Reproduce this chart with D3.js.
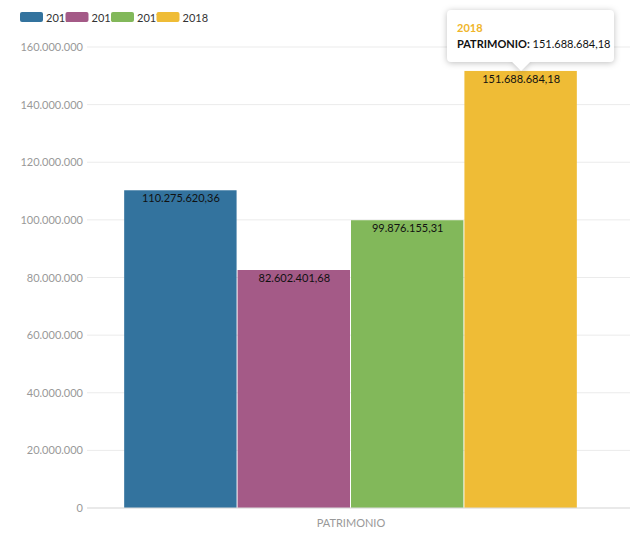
<!DOCTYPE html>
<html><head><meta charset="utf-8">
<script src="https://cdn.jsdelivr.net/npm/d3@7"></script>
<style>
body{margin:0;background:#fff;font-family:Lato,"Open Sans",sans-serif;}
</style></head>
<body><svg id="c" width="632" height="534"></svg>
<script>
var years = ["2015", "2016", "2017", "2018"];
var values = [110275620.36, 82602401.68, 99876155.31, 151688684.18];
var category = "PATRIMONIO";
var colors = ["#33739e", "#a45a87", "#82b85a", "#efbc36"];
var yTicks = [0, 20000000, 40000000, 60000000, 80000000, 100000000, 120000000, 140000000, 160000000];

var svg = d3.select("#c");
var pLeft = 72, pRight = 630, pTop = 47, pBottom = 508;
var fmtInt = function(v) { return d3.format(",.0f")(v).replace(/,/g, "."); };
var fmtDec = function(v) {
    var s = d3.format(",.2f")(v);
    return s.replace(/,/g, "#").replace(".", ",").replace(/#/g, ".");
};

var y = d3.scaleLinear().domain([0, 160000000]).range([pBottom, pTop]);
var xCat = d3.scaleBand().domain([category]).range([pLeft, pRight]).paddingInner(0).paddingOuter(0.115);
var x = d3.scaleBand().domain(years).range([xCat(category), xCat(category) + xCat.bandwidth()]).padding(0);

// grid
svg.append("g").selectAll("line").data(yTicks).join("line")
    .attr("x1", pLeft + 15).attr("x2", pRight).attr("y1", d => y(d)).attr("y2", d => y(d))
    .attr("stroke", "#ebebeb");
svg.append("g").selectAll("text").data(yTicks).join("text")
    .attr("x", 83).attr("y", d => y(d) + 4).attr("text-anchor", "end")
    .attr("font-size", 11).attr("fill", "#999").text(d => fmtInt(d));

svg.selectAll("rect.bar").data(values).join("rect").attr("class", "bar")
    .attr("x", (d, i) => x(years[i])).attr("width", x.bandwidth() - 1)
    .attr("y", d => y(d)).attr("height", d => pBottom - y(d))
    .attr("fill", (d, i) => colors[i]);
svg.selectAll("text.val").data(values).join("text").attr("class", "val")
    .attr("x", (d, i) => x(years[i]) + x.bandwidth() / 2).attr("y", d => y(d) + 12)
    .attr("text-anchor", "middle").attr("font-size", 11).attr("fill", "#111").text(d => fmtDec(d));

svg.append("line").attr("x1", pLeft + 15).attr("x2", pRight).attr("y1", pBottom).attr("y2", pBottom).attr("stroke", "#ddd");
svg.append("text").attr("x", xCat(category) + xCat.bandwidth() / 2).attr("y", 527)
    .attr("text-anchor", "middle").attr("font-size", 11).attr("fill", "#999").text(category);

// legend
var lg = svg.append("g").selectAll("g").data(years).join("g")
    .attr("transform", (d, i) => "translate(" + (20 + i * 45.5) + ",12)");
lg.append("rect").attr("width", 23).attr("height", 10).attr("rx", 2).attr("fill", (d, i) => colors[i]);
lg.append("text").attr("x", 26).attr("y", 9.5).attr("font-size", 11).attr("fill", "#333").text(d => d);

// tooltip
var tx = x("2018") + x.bandwidth() / 2;
var tip = svg.append("g");
tip.append("path")
    .attr("d", "M447,14 a4,4 0 0 1 4,-4 H610 a4,4 0 0 1 4,4 V58 a4,4 0 0 1 -4,4 H" + (tx + 9) + " L" + tx + ",71 L" + (tx - 9) + ",62 H451 a4,4 0 0 1 -4,-4 Z")
    .attr("fill", "#fff").style("filter", "drop-shadow(0 1px 3px rgba(0,0,0,0.25))");
tip.append("text").attr("x", 457).attr("y", 32).attr("font-size", 11).attr("font-weight", "bold")
    .attr("fill", "#efb52a").text("2018");
var t2 = tip.append("text").attr("x", 457).attr("y", 48).attr("font-size", 11).attr("fill", "#111");
t2.append("tspan").attr("font-weight", "bold").text(category + ":");
t2.append("tspan").text(" " + fmtDec(values[3]));
</script></body></html>
